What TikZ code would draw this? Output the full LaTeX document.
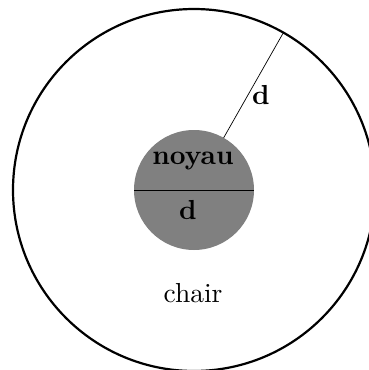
\documentclass[tikz,border=0pt]{standalone}
\begin{document}
\begin{tikzpicture}[x=1pt,y=-1pt,
  lbl/.style={inner sep=0pt,scale=2.75,font=\fontsize{10}{12}\selectfont},
  blbl/.style={lbl,font=\fontsize{10}{12}\selectfont\bfseries}]
\useasboundingbox (0,0) rectangle (368,370);
\coordinate (c) at (194,190);
\draw[line width=2.2pt] (c) circle (181);
\fill[gray] (c) circle (60);
\coordinate (hl) at (134,190);
\coordinate (hr) at (254,190);
\draw[line width=1pt] (hl) -- (hr);
\path (c) ++(-60.4:60) coordinate (ri);
\path (c) ++(-60.4:181) coordinate (ro);
\draw[line width=0.7pt] (ri) -- (ro);
\node[blbl,anchor=base] (noyau) at (193,164) {noyau};
\node[blbl,anchor=base] (din) at (188,219) {d};
\node[blbl,anchor=base] (dout) at (261,104) {d};
\node[lbl,anchor=base] (chair) at (193,302) {chair};
\end{tikzpicture}
\end{document}
